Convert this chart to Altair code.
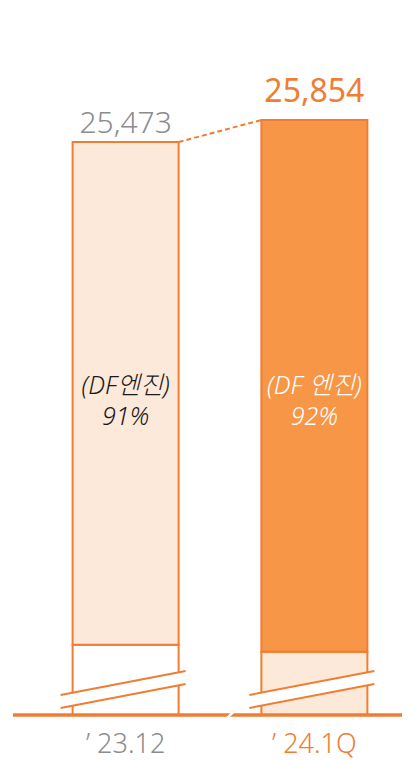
import altair as alt
import pandas as pd

# ---- data ----
categories = ["’23.12", "’24.1Q"]
totals = [25473, 25854]
df_share = [91, 92]
df_captions = ["(DF엔진)", "(DF 엔진)"]

# ---- broken value axis ----
AXIS_FLOOR = 15550        # value where the (broken) axis starts
BREAK_COMPRESS = 0.53     # display compression of the part below the break
Y_DOMAIN = [14909, 27794]

# ---- styles ----
ORANGE = "#F07D32"
ORANGE_FILL = "#F79646"
LIGHT_FILL = "#FDE9D9"
GREY = "#8C8C8C"
FONT = "'Noto Sans', 'Noto Sans CJK KR', sans-serif"

rows = []
for c, t, s in zip(categories, totals, df_share):
    other = t * (100 - s) / 100
    split = AXIS_FLOOR + other * BREAK_COMPRESS
    rows.append(dict(cat=c, y0=AXIS_FLOOR, y1=split, key=c + "|other"))
    rows.append(dict(cat=c, y0=split, y1=t, key=c + "|df"))
seg_df = pd.DataFrame(rows)

info = pd.DataFrame({"cat": categories, "total": totals, "share": df_share,
                     "caption": df_captions})
info["inner"] = info["caption"] + "\n" + info["share"].astype(str) + "%"

conn = pd.DataFrame({"x0": [categories[0]], "y0": [totals[0]],
                     "x1": [categories[1]], "y1": [totals[1]]})

label_level = (AXIS_FLOOR + max(totals)) / 2

H = 752
y_lo = Y_DOMAIN[1] - (Y_DOMAIN[1] - Y_DOMAIN[0]) * H / 744

xscale = alt.Scale(domain=categories, range=[30, 394],
                   paddingInner=0.4384, paddingOuter=0.1834)
yscale = alt.Scale(domain=[y_lo, Y_DOMAIN[1]], nice=False, zero=False)

is_first = alt.datum.cat == categories[0]

bars = alt.Chart(seg_df).mark_bar(stroke=ORANGE, strokeWidth=2).encode(
    x=alt.X("cat:N", scale=xscale, axis=None),
    y=alt.Y("y0:Q", scale=yscale, axis=None),
    y2="y1:Q",
    fill=alt.Fill("key:N", scale=alt.Scale(
        domain=[categories[0] + "|other", categories[0] + "|df",
                categories[1] + "|other", categories[1] + "|df"],
        range=["#FFFFFF", LIGHT_FILL, LIGHT_FILL, ORANGE_FILL]), legend=None),
)

def brk(**kw):
    return alt.Chart(info).mark_rule(**kw).encode(
        x=alt.X("cat:N", bandPosition=0.5),
        x2=alt.X2("cat:N", bandPosition=0.5),
        y=alt.datum(AXIS_FLOOR),
        y2=alt.datum(AXIS_FLOOR),
    )

break_band = brk(stroke="white", strokeWidth=12, xOffset=-65, x2Offset=60,
                 yOffset=-13.5, y2Offset=-37.5)
break_l1 = brk(stroke=ORANGE, strokeWidth=2, xOffset=-65, x2Offset=60,
               yOffset=-20, y2Offset=-44)
break_l2 = brk(stroke=ORANGE, strokeWidth=2, xOffset=-65, x2Offset=60,
               yOffset=-7, y2Offset=-31)

baseline = alt.Chart(info).mark_rule(stroke=ORANGE, strokeWidth=3).encode(
    x=alt.value(5), x2=alt.value(394), y=alt.datum(AXIS_FLOOR))

base_cut = brk(stroke="white", strokeWidth=2.5, xOffset=-88, x2Offset=-80,
               yOffset=4, y2Offset=-4).transform_filter(
    alt.datum.cat == categories[1])

connector = alt.Chart(conn).mark_rule(stroke=ORANGE, strokeWidth=2,
                                      strokeDash=[5, 3], xOffset=53,
                                      x2Offset=-53).encode(
    x=alt.X("x0:N", bandPosition=0.5),
    x2=alt.X2("x1:N", bandPosition=0.5),
    y="y0:Q", y2="y1:Q")

total1 = alt.Chart(info).transform_filter(is_first).mark_text(
    font=FONT, fontSize=30, fontWeight=300, color=GREY, baseline="alphabetic",
    dy=-9).encode(x="cat:N", y="total:Q", text=alt.Text("total:Q", format=","))
total2 = alt.Chart(info).transform_filter(~is_first).mark_text(
    font=FONT, fontSize=32, fontWeight=400, color=ORANGE, baseline="alphabetic",
    dy=-18).encode(x="cat:N", y="total:Q", text=alt.Text("total:Q", format=","))

inner = alt.Chart(info).mark_text(
    font=FONT, fontSize=25, fontStyle="italic", fontWeight=300, lineHeight=31,
    lineBreak="\n", baseline="middle", dy=-32).encode(
    x="cat:N", y=alt.datum(label_level), text="inner:N",
    color=alt.condition(is_first, alt.value("#1A1A1A"), alt.value("#FFFFFF")))

xlabels = alt.Chart(info).transform_calculate(
    label="replace(datum.cat, '’', '’ ')"
).mark_text(
    font=FONT, fontSize=27, fontWeight=300, baseline="alphabetic", dy=38).encode(
    x="cat:N", y=alt.datum(AXIS_FLOOR), text="label:N",
    color=alt.condition(is_first, alt.value(GREY), alt.value(ORANGE)))

chart = alt.layer(
    bars, break_band, break_l1, break_l2, baseline, base_cut, connector,
    total1, total2, inner, xlabels
).properties(
    width=394, height=H, padding=0,
    autosize=alt.AutoSizeParams(type="none"),
).configure_view(strokeWidth=0).configure_axis(disable=True)

chart.save("out.html", embed_options={"renderer": "svg", "actions": False})
